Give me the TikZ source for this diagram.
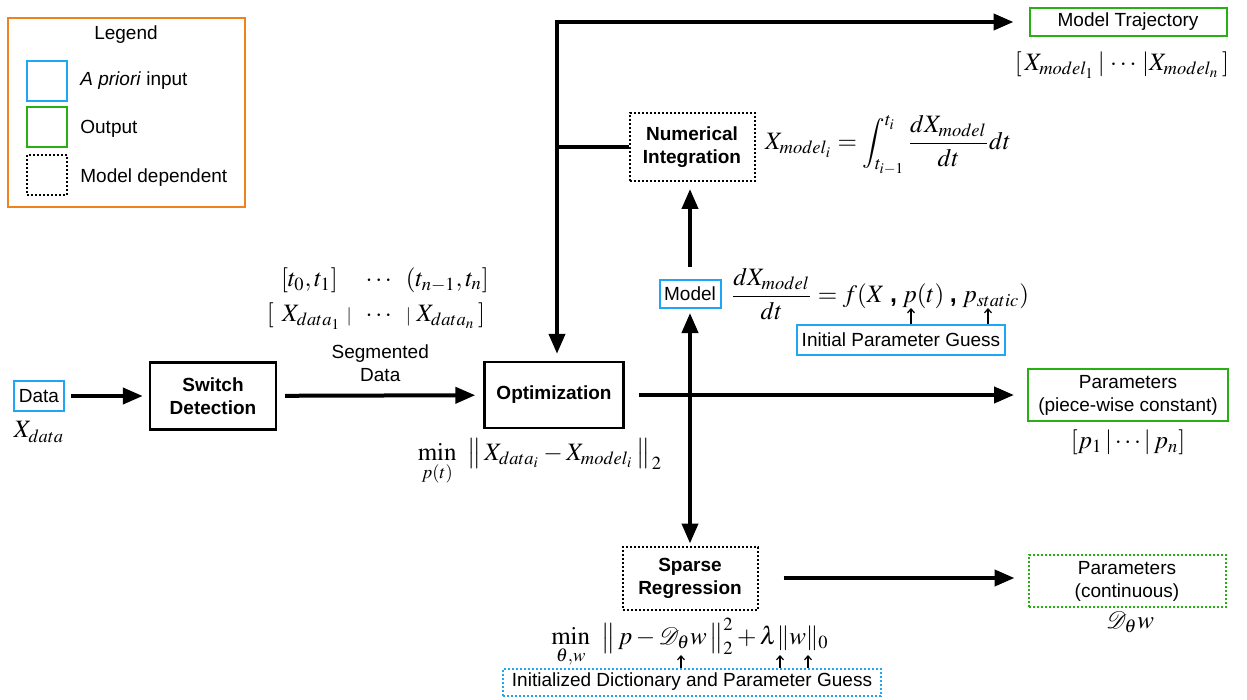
\documentclass[tikz,border=0pt]{standalone}
\usepackage{mathptmx}
\usepackage{mathrsfs}
\usepackage[no-math]{fontspec}
\setmainfont{Liberation Sans}
\usetikzlibrary{arrows.meta}
\definecolor{legendorange}{RGB}{240,130,30}
\definecolor{inputblue}{RGB}{30,165,245}
\definecolor{outputgreen}{RGB}{40,175,20}
\newcommand{\labsize}{\fontsize{9.5}{11.5}\selectfont}
\newcommand{\eqsize}{\fontsize{12.5}{15}\selectfont}
\newcommand{\sep}{\;{\scriptstyle|}\;}

\begin{document}
\begin{tikzpicture}[x=0.5pt,y=-0.5pt,
                    box/.style={draw, line width=1pt, inner sep=0pt, align=center, font=\labsize},
                    inbox/.style={box, draw=inputblue},
                    outbox/.style={box, draw=outputgreen},
                    modbox/.style={box, dash pattern=on 1pt off 1pt},
                    stagebox/.style={box, line width=1.2pt, font=\labsize\bfseries},
                    flow/.style={line width=2pt, -{Triangle[length=10pt,width=8pt]}},
                    pointer/.style={line width=0.6pt, -{Straight Barb[length=2pt,width=3.5pt]}},
                    eq/.style={font=\eqsize, inner sep=0pt}]
                    \useasboundingbox (0,0) rectangle (1247,700);
                    % legend
                    \draw[legendorange, line width=1pt] (8,18) rectangle (245,207);
                    \node[font=\labsize] (legendtitle) at (126,35) {Legend};
                    \node[inbox, minimum width=20pt, minimum height=20pt] (keyin) at (47,81) {};
                    \node[outbox, minimum width=20pt, minimum height=20pt] (keyout) at (47,127) {};
                    \node[modbox, minimum width=20pt, minimum height=20pt] (keymod) at (47,175) {};
                    \node[anchor=west, font=\labsize, inner sep=0pt] (keyintext) at (80,81) {\textit{A priori} input};
                    \node[anchor=west, font=\labsize, inner sep=0pt] (keyouttext) at (80,129) {Output};
                    \node[anchor=west, font=\labsize, inner sep=0pt] (keymodtext) at (80,178) {Model dependent};
                    % blocks
                    \node[inbox, minimum width=25pt, minimum height=15pt] (data) at (39,396) {Data};
                    \node[stagebox, minimum width=63pt, minimum height=33.5pt] (switch) at (213,396) {Switch\\Detection};
                    \node[stagebox, minimum width=69.5pt, minimum height=33pt] (opt) at (554,395) {Optimization};
                    \node[inbox, minimum width=30.5pt, minimum height=14pt] (model) at (690,294) {Model};
                    \node[modbox, font=\labsize\bfseries, minimum width=62.5pt, minimum height=34pt] (numint) at (692,147) {Numerical\\Integration};
                    \node[inbox, minimum width=104pt, minimum height=15pt] (ipg) at (901,340) {Initial Parameter Guess};
                    \node[modbox, font=\labsize\bfseries, minimum width=67.5pt, minimum height=31.5pt] (sparse) at (690,578) {Sparse\\Regression};
                    \node[outbox, minimum width=98.5pt, minimum height=14pt] (traj) at (1128,22) {Model Trajectory};
                    \node[outbox, minimum width=100pt, minimum height=26pt] (parpw) at (1128,395) {Parameters\\(piece-wise constant)};
                    \node[outbox, dash pattern=on 1pt off 1pt, minimum width=98.5pt, minimum height=26pt] (parc) at (1127,581) {Parameters\\(continuous)};
                    \node[inbox, dash pattern=on 1pt off 1pt, minimum width=189pt, minimum height=13.5pt] (idpg) at (692,682) {Initialized Dictionary and Parameter Guess};
                    % formulas
                    \node[eq] (xdata) at (39,432) {$X_{data}$};
                    \node[eq] (times) at (385,280) {$[t_0,t_1]\quad\cdots\;\;(t_{n-1},t_n]$};
                    \node[eq] (segs) at (376,316) {$[\;\,X_{data_1}\sep\;\cdots\;\sep X_{data_n}\,]$};
                    \node[eq] (opteq) at (540,462) {$\min\limits_{p(t)}\;\;\bigl\|\,X_{data_i}-X_{model_i}\,\bigr\|_{\,2}$};
                    \node[eq] (inteq) at (888,145) {$\displaystyle X_{model_i}=\int_{t_{i-1}}^{t_i}\frac{dX_{model}}{dt}dt$};
                    \node[eq] (trajeq) at (1122,65) {$[\,X_{model_1}\,|\,\cdots\,|X_{model_n}\,]$};
                    \node[eq] (modeleq) at (880,294) {$\displaystyle\frac{dX_{model}}{dt}=f(X\;\mbox{\bfseries,}\;p(t)\;\mbox{\bfseries,}\;p_{static})$};
                    \node[eq] (pareq) at (1128,442) {$[p_1\,|\cdots|\,p_n]$};
                    \node[eq] (dicteq) at (1130,622) {$\mathscr{D}_\theta w$};
                    \node[eq] (sparseeq) at (690,643) {$\min\limits_{\theta,w}\;\;\bigl\|\,p-\mathscr{D}_\theta w\,\bigr\|_2^2+\lambda\|w\|_0$};
                    % connectors
                    \coordinate (split) at (557,147);
                    \coordinate (corner) at (557,22);
                    \coordinate (pt) at (911,308);
                    \coordinate (pstatic) at (988,308);
                    \coordinate (theta) at (681,655);
                    \coordinate (lambda) at (780,655);
                    \coordinate (wnorm) at (808,655);
                    \draw[flow, shorten <=3pt, shorten >=3pt] (data) -- (switch);
                    \draw[flow, shorten <=4pt, shorten >=4pt] (switch) -- node[above=6pt, font=\labsize, align=center, inner sep=0pt] (seglabel) {Segmented\\Data} (opt);
                    \draw[flow, shorten <=7pt, shorten >=6.5pt] (opt) -- (parpw);
                    \draw[flow, {Triangle[length=10pt,width=8pt]}-{Triangle[length=10pt,width=8pt]}, shorten <=2pt, shorten >=1pt] (model.south) -- (model.south |- sparse.north);
                    \draw[flow, shorten <=6pt, shorten >=3.5pt] (model.north) -- (model.north |- numint.south);
                    \draw[line width=2pt] (numint.west) -- (split);
                    \draw[flow, shorten >=3.5pt] (split) -- (split |- opt.north);
                    \draw[flow, line join=miter, shorten >=7.5pt] (split) -- (corner) -- (corner -| traj.west);
                    \draw[flow, shorten <=12.5pt, shorten >=6.5pt] (sparse.east) -- (sparse.east -| parc.west);
                    \draw[pointer] (ipg.north -| pt) -- (pt);
                    \draw[pointer] (ipg.north -| pstatic) -- (pstatic);
                    \draw[pointer] (idpg.north -| theta) -- (theta);
                    \draw[pointer] (idpg.north -| lambda) -- (lambda);
                    \draw[pointer] (idpg.north -| wnorm) -- (wnorm);
                \end{tikzpicture}
\end{document}
